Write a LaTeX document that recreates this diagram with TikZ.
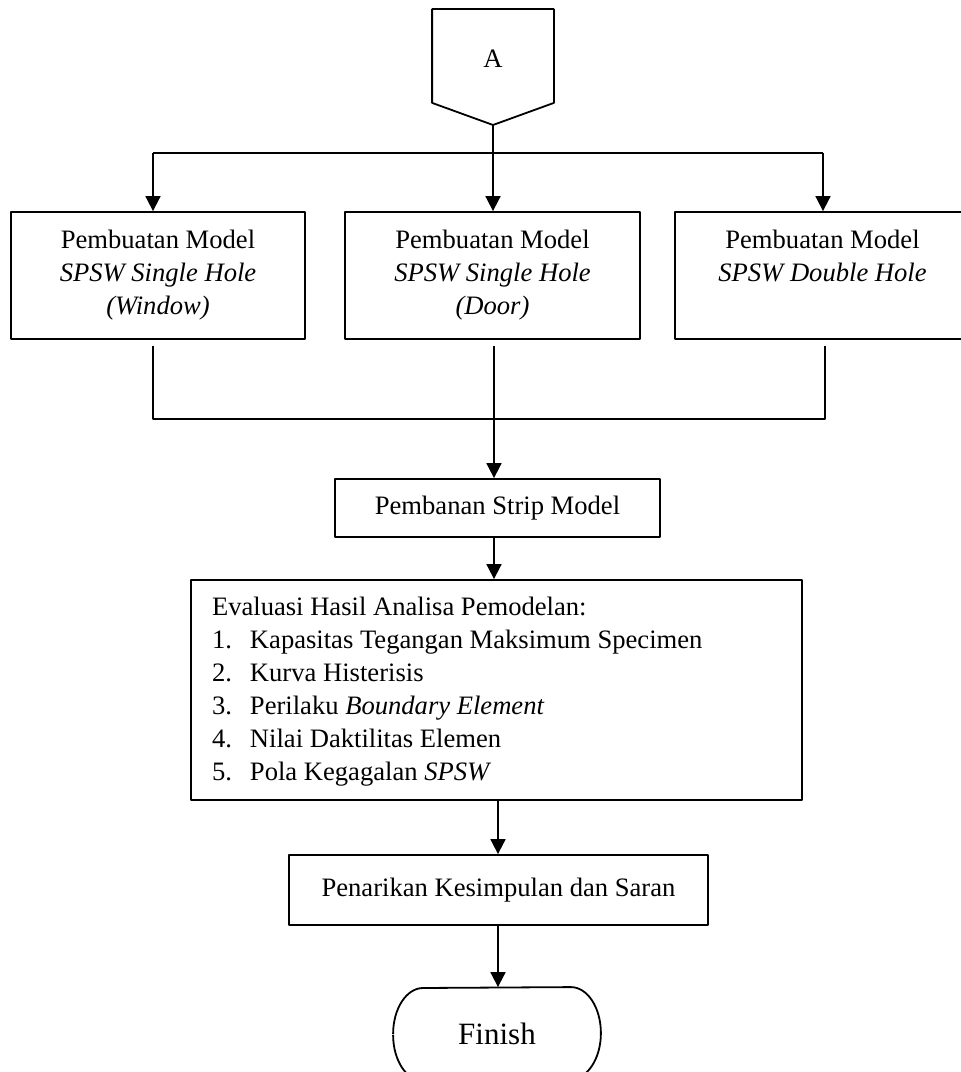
\documentclass[tikz,border=0pt]{standalone}
\usepackage{fontspec}
\setmainfont{Liberation Serif}
\usetikzlibrary{arrows.meta}
\newcommand\myBody{\fontsize{13.3pt}{16.5pt}\selectfont}
\begin{document}
\begin{tikzpicture}[x=0.5pt,y=0.5pt, line width=0.9pt, line join=round,
  box/.style={draw, inner sep=0pt, align=center, font=\myBody},
  arr/.style={-{Triangle[length=7.5pt,width=7.5pt]}},
  ]
\useasboundingbox (0,0) rectangle (960,1072);
% connector A
\node[minimum width=60pt, minimum height=46pt, inner sep=0pt,
  label={[font=\myBody, yshift=-1.5pt]center:A}] (A) at (493,1016) {};
\coordinate (Atip) at (493,947);
\draw (A.north west) -- (A.north east) -- (A.south east) -- (Atip) -- (A.south west) -- cycle;
% model boxes
\node[box, minimum width=147pt, minimum height=63.5pt] (b1) at (158,796.5) {Pembuatan Model\\\textit{SPSW Single Hole}\\\textit{(Window)}};
\node[box, minimum width=147.5pt, minimum height=63.5pt] (b2) at (492.5,796.5) {Pembuatan Model\\\textit{SPSW Single Hole}\\\textit{(Door)}};
\node[box, minimum width=147.5pt, minimum height=63.5pt] (b3) at (822.5,796.5) {Pembuatan Model\\\textit{SPSW Double Hole}\\\phantom{\textit{(Door)}}};
% strip
\node[box, minimum width=162.5pt, minimum height=29pt] (strip) at (497.5,564) {Pembanan Strip Model};
% evaluation
\node[draw, minimum width=305.5pt, minimum height=110pt, inner sep=0pt] (eval) at (496.5,382) {};
\node[anchor=west, inner sep=0pt, align=left, font=\myBody] (evaltxt) at ([xshift=10.5pt,yshift=-1pt]eval.west) {Evaluasi Hasil Analisa Pemodelan:\\
\makebox[19pt][l]{1.}Kapasitas Tegangan Maksimum Specimen\\
\makebox[19pt][l]{2.}Kurva Histerisis\\
\makebox[19pt][l]{3.}Perilaku \textit{Boundary Element}\\
\makebox[19pt][l]{4.}Nilai Daktilitas Elemen\\
\makebox[19pt][l]{5.}Pola Kegagalan \textit{SPSW}};
% conclusion
\node[box, minimum width=209.5pt, minimum height=35pt] (pen) at (498.5,182) {Penarikan Kesimpulan dan Saran};
% finish
\node[minimum width=103pt, minimum height=46pt, inner sep=0pt, font=\fontsize{15.5pt}{18pt}\selectfont] (fin) at (497,38) {Finish};
\draw (fin.west) arc[start angle=180,end angle=90,x radius=15pt,y radius=23pt]
  -- ([xshift=-15pt]fin.north east)
  arc[start angle=90,end angle=-90,x radius=15pt,y radius=23pt]
  -- ([xshift=15pt]fin.south west)
  arc[start angle=270,end angle=180,x radius=15pt,y radius=23pt];
% top distribution
\coordinate (tL) at (153,919);
\coordinate (tR) at (823,919);
\draw (tL) -- (tR);
\draw[arr] (Atip) -- (Atip |- b2.north);
\draw[arr] (tL) -- (tL |- b1.north);
\draw[arr] (tR) -- (tR |- b3.north);
% bottom collection
\coordinate (lL) at (153,726);
\coordinate (lR) at (825,726);
\coordinate (lM) at (494,726);
\coordinate (bL) at (153,653);
\coordinate (bR) at (825,653);
\draw (lL) -- (bL) -- (bR) -- (lR);
\draw[arr] (lM) -- (lM |- strip.north);
\draw[arr] (strip.south -| lM) -- (eval.north -| lM);
\coordinate (cx) at (498,0);
\draw[arr] (eval.south -| cx) -- (pen.north -| cx);
\draw[arr] (pen.south -| cx) -- (fin.north -| cx);
\end{tikzpicture}
\end{document}
